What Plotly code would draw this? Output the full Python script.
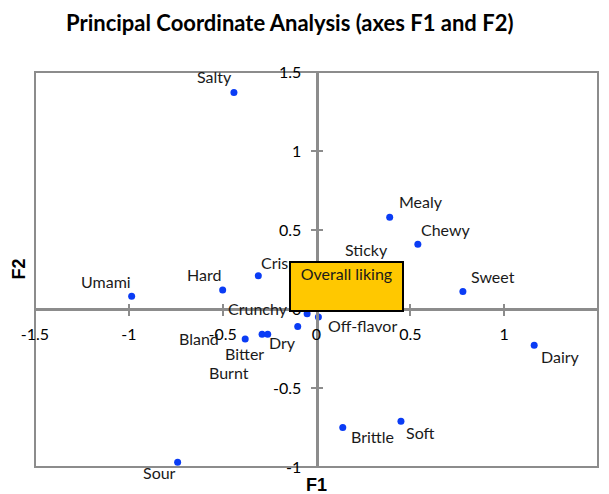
import plotly.graph_objects as go

# attribute coordinates
labels = ["Salty", "Umami", "Hard", "Crispy", "Bland", "Bitter", "Burnt", "Dry",
          "Crunchy", "Off-flavor", "Sticky", "Mealy", "Chewy", "Sweet", "Dairy",
          "Sour", "Brittle", "Soft"]
f1 = [-0.44, -0.985, -0.50, -0.31, -0.38, -0.29, -0.26, -0.10,
      -0.05, 0.01, 0.15, 0.39, 0.54, 0.78, 1.16,
      -0.74, 0.14, 0.45]
f2 = [1.37, 0.08, 0.12, 0.21, -0.19, -0.16, -0.16, -0.11,
      -0.03, -0.05, 0.28, 0.58, 0.41, 0.11, -0.23,
      -0.97, -0.75, -0.71]

liking_name = "Overall liking"
liking_f1 = 0.16
liking_f2 = 0.14

x_ticks = [-1.5, -1, -0.5, 0, 0.5, 1, 1.5]
y_ticks = [-1, -0.5, 0, 0.5, 1, 1.5]

# pixel offsets of each label from its point (Excel placed them by hand)
label_dx = [-19, -26, -19, 25, -46, -18, -39, -15, -49, 44, 22, 31, 28, 30, 26, -18, 30, 20]
label_dy = [16, 15, 16, 13, 1, -19, -38, -16, 5, -9, 15, 16, 15, 15, -11, -10, -9, -11]

FONT = "Lato"
GREY = "#8c8c8c"

fig = go.Figure()

fig.add_trace(go.Scatter(
    x=f1 + [liking_f1], y=f2 + [liking_f2],
    mode="markers",
    marker=dict(color="#0a3cf5", size=7),
    hoverinfo="skip", showlegend=False
))

# empty trace so the overlay axes (crossing tick marks) get drawn
fig.add_trace(go.Scatter(x=[None], y=[None], xaxis="x2", yaxis="y2",
                         showlegend=False, hoverinfo="skip"))

annotations = []
for name, x, y, dx, dy in zip(labels, f1, f2, label_dx, label_dy):
    annotations.append(dict(
        x=x, y=y, text=name, showarrow=False,
        xshift=dx, yshift=dy,
        font=dict(family=FONT, size=16, color="#1a1a1a")
    ))

# the big yellow label box
annotations.append(dict(
    x=liking_f1, y=liking_f2, text=liking_name, showarrow=False,
    width=109, height=45, valign="top", align="center",
    bgcolor="#ffc800", bordercolor="black", borderwidth=2, borderpad=1,
    font=dict(family=FONT, size=16, color="#1a1a1a")
))

# axis titles and chart title
annotations.append(dict(
    x=0.5, y=-0.016, xref="paper", yref="paper", text="<b>F1</b>",
    showarrow=False, yanchor="top",
    font=dict(family="Liberation Sans", size=18, color="black")
))
annotations.append(dict(
    x=-0.03, y=0.5, xref="paper", yref="paper", text="<b>F2</b>",
    showarrow=False, textangle=-90, xanchor="center",
    font=dict(family="Liberation Sans", size=18, color="black")
))
annotations.append(dict(
    x=(289 - 35) / 563, y=1.125, xref="paper", yref="paper",
    text="<b>Principal Coordinate Analysis (axes F1 and F2)</b>",
    showarrow=False, yanchor="middle",
    font=dict(family=FONT, size=22, color="black")
))

axis_common = dict(showgrid=False, zeroline=False)

# the page body has an 8px margin, so the figure is a bit smaller than the window
fig.update_layout(
    width=601, height=486,
    margin=dict(l=27, r=11, t=64, b=27),
    paper_bgcolor="white", plot_bgcolor="white",
    font=dict(family=FONT, size=16, color="black"),
    xaxis=dict(
        range=[-1.5, 1.5], tickvals=x_ticks, ticktext=[f"{v:g}" for v in x_ticks],
        anchor="free", position=0.4,
        showline=True, linecolor=GREY, linewidth=3,
        ticks="outside", ticklen=5, tickwidth=2, tickcolor=GREY,
        ticklabelstandoff=5, **axis_common
    ),
    yaxis=dict(
        range=[-1, 1.5], tickvals=y_ticks, ticktext=[f"{v:g}" for v in y_ticks],
        anchor="free", position=0.5,
        showline=True, linecolor=GREY, linewidth=3,
        ticks="outside", ticklen=5, tickwidth=2, tickcolor=GREY,
        ticklabelstandoff=6, **axis_common
    ),
    xaxis2=dict(
        range=[-1.5, 1.5], tickvals=x_ticks, overlaying="x",
        anchor="free", position=0.4, showline=False, showticklabels=False,
        ticks="inside", ticklen=5, tickwidth=2, tickcolor=GREY, **axis_common
    ),
    yaxis2=dict(
        range=[-1, 1.5], tickvals=y_ticks, overlaying="y",
        anchor="free", position=0.5, showline=False, showticklabels=False,
        ticks="inside", ticklen=5, tickwidth=2, tickcolor=GREY, **axis_common
    ),
    shapes=[dict(
        type="rect", xref="paper", yref="paper", x0=0, x1=1, y0=0, y1=1,
        line=dict(color=GREY, width=2), layer="below"
    )],
    annotations=annotations,
)

fig.write_html("out.html")
